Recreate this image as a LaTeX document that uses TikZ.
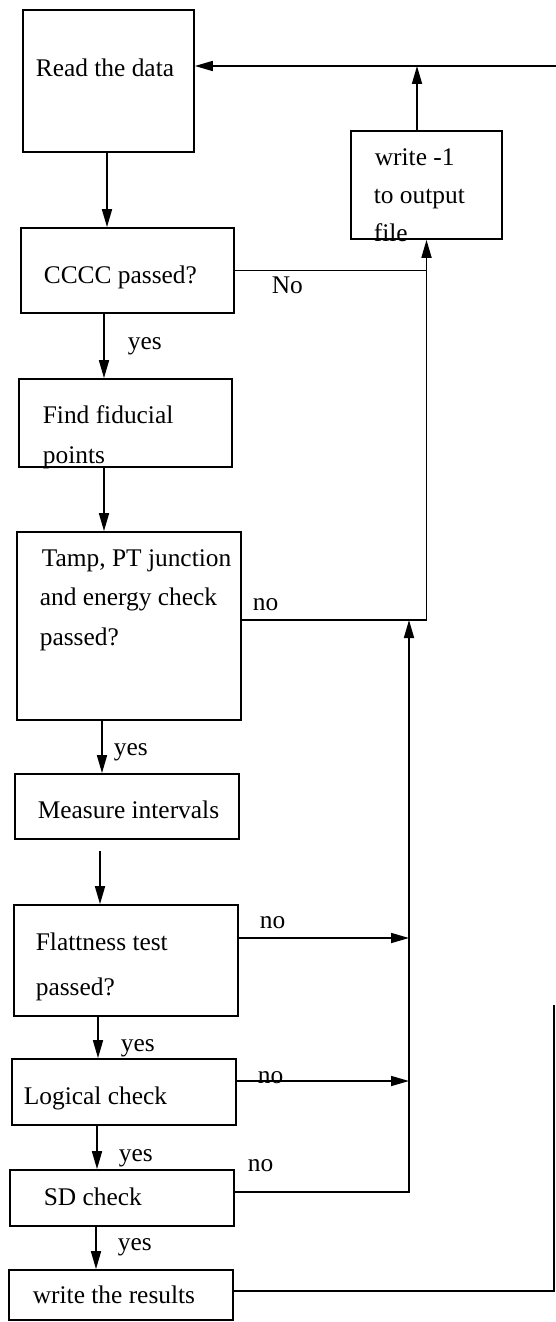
\documentclass[tikz,border=0pt]{standalone}
\usepackage{fontspec}
\setmainfont{Liberation Serif}
\usetikzlibrary{arrows.meta}

\tikzset{
  box/.style={rectangle,draw,inner sep=0pt},
  txt/.style={anchor=west,inner sep=0pt,yshift=-1.75pt,text height=.7em,text depth=.2em,font=\fontsize{12.7}{15}\selectfont},
}

\begin{document}
\begin{tikzpicture}[x=.5pt,y=-.5pt,line width=.85pt,>={Triangle[length=9pt,width=5pt]}]
\useasboundingbox (0,0) rectangle (556,1322);
% boxes
\draw (108.5,81) node[box,minimum width=85.5pt,minimum height=71pt] (read) {};
\draw (127.5,270.5) node[box,minimum width=106.5pt,minimum height=42.5pt] (cccc) {};
\draw (426.5,185) node[box,minimum width=75.5pt,minimum height=54pt] (wout) {};
\draw (125.5,423) node[box,minimum width=106.5pt,minimum height=44pt] (fid) {};
\draw (129,626) node[box,minimum width=112pt,minimum height=94pt] (tamp) {};
\draw (127,806.5) node[box,minimum width=112pt,minimum height=32.5pt] (meas) {};
\draw (126,960.5) node[box,minimum width=112pt,minimum height=55.5pt] (flat) {};
\draw (124,1092) node[box,minimum width=112pt,minimum height=33pt] (logic) {};
\draw (122,1198) node[box,minimum width=112pt,minimum height=28pt] (sd) {};
\draw (121,1295) node[box,minimum width=112pt,minimum height=25pt] (res) {};
% texts in the boxes
\draw (35,68) node[txt] (t-read) {Read the data};
\draw (43,275) node[txt] (t-cccc) {CCCC passed?};
\draw (374,157) node[txt] (t-w1) {write -1};
\draw (373,195) node[txt] (t-w2) {to output};
\draw (373,233) node[txt] (t-w3) {file};
\draw (42,415) node[txt] (t-fid1) {Find fiducial};
\draw (42,455) node[txt] (t-fid2) {points};
\draw (41,558) node[txt] (t-tamp1) {Tamp, PT junction};
\draw (39,597) node[txt] (t-tamp2) {and energy check};
\draw (39,637) node[txt] (t-tamp3) {passed?};
\draw (37,810) node[txt] (t-meas) {Measure intervals};
\draw (35,942) node[txt] (t-flat1) {Flattness test};
\draw (35,987) node[txt] (t-flat2) {passed?};
\draw (23,1096) node[txt] (t-logic) {Logical check};
\draw (43,1197) node[txt] (t-sd) {SD check};
\draw (32,1295) node[txt] (t-res) {write the results};
% yes / no
\draw (127,341) node[txt] (y1) {yes};
\draw (113,747) node[txt] (y2) {yes};
\draw (120,1043) node[txt] (y3) {yes};
\draw (118,1153) node[txt] (y4) {yes};
\draw (117,1242) node[txt] (y5) {yes};
\draw (271,285) node[txt] (n1) {No};
\draw (252,602) node[txt] (n2) {no};
\draw (259,920) node[txt] (n3) {no};
\draw (257,1075) node[txt] (n4) {no};
\draw (247,1163) node[txt] (n5) {no};
% main column
\draw[->] ([xshift=-.75pt]read.south) -- ([xshift=-.75pt]read.south |- cccc.north);
\draw[->] ([xshift=-11.75pt]cccc.south) -- ([xshift=-11.75pt]cccc.south |- fid.north);
\draw[->] ([xshift=-10.75pt]fid.south) -- ([xshift=-10.75pt]fid.south |- tamp.north);
\draw[->] ([xshift=-13.5pt]tamp.south) -- ([xshift=-13.5pt]tamp.south |- meas.north);
\draw[->] ([xshift=-13.5pt,yshift=-5.5pt]meas.south) -- ([xshift=-13.5pt]meas.south |- flat.north);
\draw[->] ([xshift=-14pt]flat.south) -- ([xshift=-14pt]flat.south |- logic.north);
\draw[->] ([xshift=-13.5pt]logic.south) -- ([xshift=-13.5pt]logic.south |- sd.north);
\draw[->] ([xshift=-13pt]sd.south) -- ([xshift=-13pt]sd.south |- res.north);
% back to the start
\coordinate (topin) at (556,66);
\coordinate (bus) at (409,620);
\coordinate (loopend) at (554,1005);
\draw[->] (topin) -- (topin -| read.east);
\draw[->] ([xshift=-4.75pt]wout.north) -- ([xshift=-4.75pt]wout.north |- topin);
\draw (cccc.east) -- (cccc.east -| wout.south);
\draw[->] ([yshift=3pt]tamp.east) -| (wout.south);
\draw[->] ([yshift=3pt]sd.east) -| (bus);
\draw[->] ([yshift=11.25pt]flat.east) -- ([yshift=11.25pt]flat.east -| bus);
\draw[->] ([yshift=5.5pt]logic.east) -- ([yshift=5.5pt]logic.east -| bus);
\draw ([yshift=2pt]res.east) -| (loopend);
\end{tikzpicture}
\end{document}
